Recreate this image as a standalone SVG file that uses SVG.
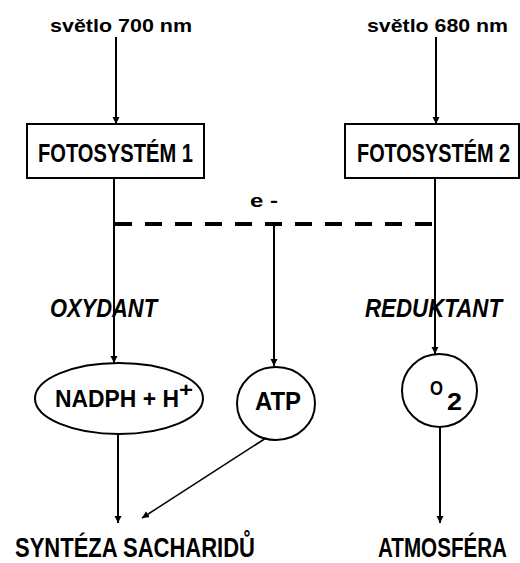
<svg xmlns="http://www.w3.org/2000/svg" width="520" height="563" viewBox="0 0 520 563">
<defs>
<marker id="arr" markerUnits="userSpaceOnUse" markerWidth="10" markerHeight="10" refX="7" refY="3.5" orient="auto">
<path d="M0,0 L7,3.5 L0,7 z" fill="#000"/>
</marker>
<style>
.t{font-family:"Liberation Sans",Arial,sans-serif;font-weight:bold;fill:#000}
.i{font-family:"Liberation Sans",Arial,sans-serif;font-style:italic;font-weight:bold;fill:#000}
.box{fill:#fff;stroke:#000;stroke-width:2}
.ln{fill:none;stroke:#000;stroke-width:2}
</style>
</defs>
<rect width="520" height="563" fill="#fff"/>
<g id="connectors">
<line class="ln" x1="116" y1="37" x2="116" y2="124" marker-end="url(#arr)"/>
<line class="ln" x1="436" y1="37" x2="436" y2="124" marker-end="url(#arr)"/>
<line class="ln" x1="114" y1="178" x2="114" y2="363" marker-end="url(#arr)"/>
<line class="ln" x1="435" y1="178" x2="435" y2="354" marker-end="url(#arr)"/>
<line x1="115" y1="224" x2="433" y2="224" stroke="#000" stroke-width="4" stroke-dasharray="17 13"/>
<line class="ln" x1="274" y1="224" x2="274" y2="366" marker-end="url(#arr)"/>
<line class="ln" x1="118" y1="434" x2="118" y2="523" marker-end="url(#arr)"/>
<line x1="266" y1="438" x2="142" y2="518" stroke="#000" stroke-width="1.5" marker-end="url(#arr)"/>
<line class="ln" x1="440" y1="427" x2="440" y2="523" marker-end="url(#arr)"/>
</g>
<g id="light700"><text class="t" x="50" y="32" font-size="19" textLength="142" lengthAdjust="spacingAndGlyphs">světlo 700 nm</text></g>
<g id="light680"><text class="t" x="367" y="32" font-size="19" textLength="141" lengthAdjust="spacingAndGlyphs">světlo 680 nm</text></g>
<g id="ps1">
<rect class="box" x="27" y="124" width="177" height="54"/>
<text class="t" transform="translate(38,162) scale(0.8,1)" font-size="25" textLength="193.75" lengthAdjust="spacingAndGlyphs">FOTOSYSTÉM 1</text>
</g>
<g id="ps2">
<rect class="box" x="345" y="124" width="174" height="54"/>
<text class="t" transform="translate(357,162) scale(0.8,1)" font-size="25" textLength="191.25" lengthAdjust="spacingAndGlyphs">FOTOSYSTÉM 2</text>
</g>
<g id="electron"><text class="t" x="250" y="207" font-size="18" textLength="28" lengthAdjust="spacingAndGlyphs">e -</text></g>
<g id="oxydant"><text class="i" x="50" y="317" font-size="25" textLength="107" lengthAdjust="spacingAndGlyphs">OXYDANT</text></g>
<g id="reduktant"><text class="i" transform="translate(365,317) scale(0.85,1)" font-size="25" textLength="161.2" lengthAdjust="spacingAndGlyphs">REDUKTANT</text></g>
<g id="nadph">
<ellipse class="ln" cx="119" cy="398.5" rx="84" ry="35.5" fill="#fff"/>
<text class="t" x="55" y="407" font-size="23" textLength="124" lengthAdjust="spacingAndGlyphs">NADPH + H</text>
<text class="t" x="179" y="397" font-size="20" textLength="14" lengthAdjust="spacingAndGlyphs">+</text>
</g>
<g id="atp">
<ellipse class="ln" cx="276" cy="403.5" rx="39" ry="36.5" fill="#fff"/>
<text class="t" x="255" y="410" font-size="26" textLength="46" lengthAdjust="spacingAndGlyphs">ATP</text>
</g>
<g id="o2">
<ellipse class="ln" cx="439.5" cy="390.5" rx="37.5" ry="36.5" fill="#fff"/>
<text class="t" x="430" y="395" font-size="20" textLength="13" lengthAdjust="spacingAndGlyphs">O</text>
<text class="t" x="447" y="410" font-size="23" textLength="15" lengthAdjust="spacingAndGlyphs">2</text>
</g>
<g id="synteza"><text class="t" x="15" y="557" font-size="27" textLength="240" lengthAdjust="spacingAndGlyphs">SYNTÉZA SACHARIDŮ</text></g>
<g id="atmosfera"><text class="t" transform="translate(378,557) scale(0.75,1)" font-size="27" textLength="172" lengthAdjust="spacingAndGlyphs">ATMOSFÉRA</text></g>
</svg>
